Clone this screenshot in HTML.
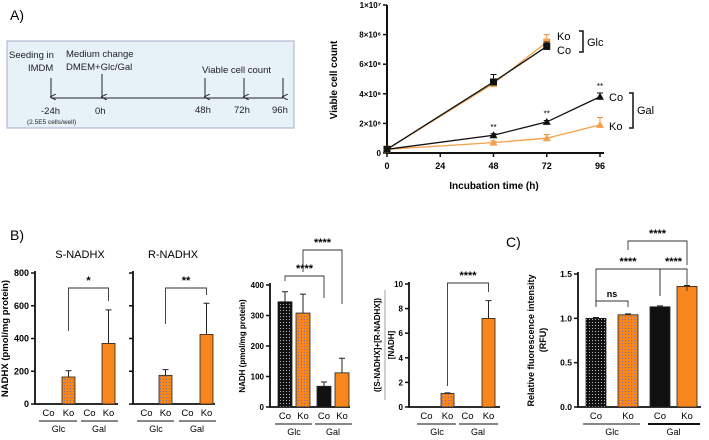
<!DOCTYPE html>
<html><head><meta charset="utf-8"><style>
body{margin:0;background:#fff}
svg{display:block;font-family:"Liberation Sans",Arial,sans-serif}
</style></head><body>
<svg id="fig" width="709" height="440" viewBox="0 0 709 440">
<defs>
<pattern id="pk" width="3" height="3" patternUnits="userSpaceOnUse"><rect width="3" height="3" fill="#111"/><rect x="1" y="1" width="1" height="1" fill="#bbb"/></pattern>
<pattern id="po" width="3" height="3" patternUnits="userSpaceOnUse"><rect width="3" height="3" fill="#f7861c"/><rect x="1" y="1" width="1" height="1" fill="#7a6fb0"/></pattern>
<marker id="arr" markerWidth="6" markerHeight="6" refX="3" refY="5" orient="auto"><path d="M0,0 L3,6 L6,0" fill="none" stroke="#222" stroke-width="1"/></marker>
</defs>
<text x="10" y="20" font-size="14">A)</text>
<g>
<rect x="7" y="41" width="287" height="87" fill="#e6f1f8" stroke="#aac" stroke-width="1"/>
<g font-size="9.5" fill="#222">
<text x="9" y="58">Seeding in</text><text x="28" y="71">IMDM</text>
<text x="66" y="57">Medium change</text><text x="66" y="70">DMEM+Glc/Gal</text>
<text x="202" y="73">Viable cell count</text>
<text x="41" y="114">-24h</text><text x="95" y="114">0h</text><text x="195" y="113">48h</text><text x="234" y="113">72h</text><text x="272" y="113">96h</text>
<text x="27" y="124" font-size="6.5">(2.5E5 cells/well)</text>
</g>
<line x1="51" y1="98" x2="283" y2="98" stroke="#222"/>
<g stroke="#222" marker-end="url(#arr)">
<line x1="51" y1="78" x2="51" y2="97"/><line x1="102" y1="74" x2="102" y2="97"/><line x1="205" y1="78" x2="205" y2="97"/><line x1="244" y1="78" x2="244" y2="97"/><line x1="283" y1="78" x2="283" y2="97"/>
</g>
</g>
<g id="lineChart"></g>
<text x="10" y="240" font-size="14">B)</text>
<text x="80" y="258" font-size="11" text-anchor="middle">S-NADHX</text>
<text x="173" y="258" font-size="11" text-anchor="middle">R-NADHX</text>
<text x="506" y="247" font-size="14">C)</text>
<g id="bars"></g>
</svg>
<script>
// growth chart data
const timesH=[0,48,72,96];
const xTicks=[0,24,48,72,96];
const yTicks=[0,2e6,4e6,6e6,8e6,1e7];
const yTickLabels=["0","2×10⁶","4×10⁶","6×10⁶","8×10⁶","1×10⁷"];
const glcCo=[0.25e6,4.8e6,7.2e6];
const glcKo=[0.25e6,4.7e6,7.5e6];
const glcKoErr=[0,0.2e6,0.5e6];
const glcCoErr=[0,0.5e6,0.3e6];
const galCo=[0.25e6,1.2e6,2.1e6,3.8e6];
const galCoErr=[0,0.1e6,0.1e6,0.25e6];
const galKo=[0.25e6,0.7e6,1.0e6,1.9e6];
const galKoErr=[0,0.1e6,0.25e6,0.5e6];

const NS="http://www.w3.org/2000/svg";
function mk(p,t,a,txt){const e=document.createElementNS(NS,t);for(const k in a)e.setAttribute(k,a[k]);if(txt!==undefined)e.textContent=txt;p.appendChild(e);return e;}
const lc=document.getElementById('lineChart');
const X=t=>387+t*(600-387)/96, Y=v=>153-v*(148/1e7);
let ax=mk(lc,'path',{d:`M387,5 V153 H604`,fill:'none',stroke:'#111','stroke-width':2});


xTicks.forEach(t=>{mk(lc,'line',{x1:X(t),x2:X(t),y1:153,y2:157,stroke:'#111','stroke-width':1.5});
 const l=mk(lc,'text',{x:X(t),y:169,'font-size':9,'font-weight':'bold','text-anchor':'middle'},String(t));
 
 });
yTicks.forEach((v,i)=>{mk(lc,'line',{x1:383,x2:387,y1:Y(v),y2:Y(v),stroke:'#111','stroke-width':1.5});
 const l=mk(lc,'text',{x:381,y:Y(v)+3,'font-size':8,'font-weight':'bold','text-anchor':'end'},yTickLabels[i]);
 
 });
let xt=mk(lc,'text',{x:494,y:189,'font-size':10,'font-weight':'bold','text-anchor':'middle'},'Incubation time (h)');


let yt=mk(lc,'text',{x:0,y:0,'font-size':10,'font-weight':'bold','text-anchor':'middle',transform:'translate(337,80) rotate(-90)'},'Viable cell count');


function series(vals,errs,color,shape,name){
 const g=mk(lc,'g',{});
 
 
 mk(g,'polyline',{points:vals.map((v,i)=>X(timesH[i])+','+Y(v)).join(' '),fill:'none',stroke:color,'stroke-width':1.3});
 vals.forEach((v,i)=>{const x=X(timesH[i]),y=Y(v);
  if(errs[i]>0){mk(g,'path',{d:`M${x},${y} V${Y(v+errs[i])} M${x-3},${Y(v+errs[i])} H${x+3}`,stroke:color==='#111'?'#111':'#e8903a','stroke-width':1,fill:'none'});}
  if(shape==='sq')mk(g,'rect',{x:x-3.5,y:y-3.5,width:7,height:7,fill:color});
  else mk(g,'path',{d:`M${x},${y-4} L${x+4},${y+3} L${x-4},${y+3}Z`,fill:color});});
}
series(glcKo,glcKoErr,'#f5a04a','sq','series-glc-ko');
series(glcCo,glcCoErr,'#111','sq','series-glc-co');
series(galKo,galKoErr,'#f5a04a','tri','series-gal-ko');
series(galCo,galCoErr,'#111','tri','series-gal-co');
[[48,galCo[1]+galCoErr[1]],[72,galCo[2]+galCoErr[2]],[96,galCo[3]+galCoErr[3]]].forEach(([t,v])=>{const s=mk(lc,'text',{x:X(t),y:Y(v)-4,'font-size':8,'text-anchor':'middle'},'**');
 
 });
const lg=mk(lc,'g',{'font-size':11});


mk(lg,'text',{x:557,y:40},'Ko');mk(lg,'text',{x:557,y:54},'Co');
mk(lg,'path',{d:'M579,31 H583 V52 H579',fill:'none',stroke:'#111','stroke-width':1.5});
mk(lg,'text',{x:587,y:46},'Glc');
mk(lg,'text',{x:609,y:101},'Co');mk(lg,'text',{x:609,y:130},'Ko');
mk(lg,'path',{d:'M629,93 H633 V128 H629',fill:'none',stroke:'#111','stroke-width':1.5});
mk(lg,'text',{x:637,y:114},'Gal');

// bar charts data
const sNadhx=[0,165,0,370], sNadhxErr=[0,38,0,205];
const rNadhx=[0,175,0,425], rNadhxErr=[0,35,0,190];
const nadh=[345,308,68,112], nadhErr=[33,62,14,48];
const ratio=[0,1.1,0,7.2], ratioErr=[0,0.05,0,1.45];
const rfu=[1.0,1.04,1.13,1.36], rfuErr=[0.01,0.01,0.01,0.01];
const sTicks=[0,200,400,600,800], nadhTicks=[0,100,200,300,400], ratioTicks=[0,2,4,6,8,10];
const rfuTicks=[0,0.5,1.0,1.5], rfuTickLabels=["0.0","0.5","1.0","1.5"];
const fills=['url(#pk)','url(#po)','#111','#f7861c'];
const B=document.getElementById('bars');
function chart(o){
 const g=mk(B,'g',{});
 
 
 const Yv=v=>o.y0-v*(o.y0-o.yTop)/o.max;
 mk(g,'path',{d:`M${o.ax},${o.yTop-2} V${o.y0} H${o.axEnd}`,fill:'none',stroke:'#111','stroke-width':1.8});
 o.ticks.forEach((t,i)=>{mk(g,'line',{x1:o.ax-4,x2:o.ax,y1:Yv(t),y2:Yv(t),stroke:'#111','stroke-width':1.5});
  if(o.labels!==false){const l=mk(g,'text',{x:o.ax-6,y:Yv(t)+3,'font-size':o.fs||8.5,'font-weight':'bold','text-anchor':'end'},o.tl?o.tl[i]:String(t));
  
  }});
 o.vals.forEach((v,i)=>{const x=o.bx[i];
  if(v<=0)return;
  const e=o.errs[i];
  mk(g,'path',{d:`M${x+o.bw/2},${Yv(v)} V${Yv(v+e)} M${x+o.bw/2-3},${Yv(v+e)} H${x+o.bw/2+3}`,stroke:'#222','stroke-width':1,fill:'none'});
  const r=mk(g,'rect',{x:x,y:Yv(v),width:o.bw,height:o.y0-Yv(v),fill:fills[i],stroke:'#222','stroke-width':0.8});
  
  });
 ['Co','Ko','Co','Ko'].forEach((s,i)=>mk(g,'text',{x:o.bx[i]+o.bw/2,y:o.y0+12,'font-size':9.5,'text-anchor':'middle'},s));
 mk(g,'line',{x1:o.bx[0]-3,x2:o.bx[1]+o.bw+2,y1:o.y0+17,y2:o.y0+17,stroke:'#111','stroke-width':1});
 mk(g,'line',{x1:o.bx[2]-2,x2:o.bx[3]+o.bw+3,y1:o.y0+17,y2:o.y0+17,stroke:'#111','stroke-width':o.thick?2:1});
 mk(g,'text',{x:(o.bx[0]+o.bx[1]+o.bw)/2,y:o.y0+28,'font-size':9,'text-anchor':'middle'},'Glc');
 mk(g,'text',{x:(o.bx[2]+o.bx[3]+o.bw)/2,y:o.y0+28,'font-size':9,'text-anchor':'middle'},'Gal');
 (o.sig||[]).forEach(s=>{const x1=o.bx[s[0]]+o.bw/2,x2=o.bx[s[1]]+o.bw/2;
  mk(g,'path',{d:`M${x1},${s[3]} V${s[2]} H${x2} V${s[4]}`,fill:'none',stroke:'#333','stroke-width':0.9});
  const t=mk(g,'text',{x:(x1+x2)/2,y:s[2]-4,'font-size':s[5]==='ns'?9:11,'text-anchor':'middle','font-weight':'bold'},s[5]);
  
  });
 if(o.title){const t=mk(g,'text',{x:0,y:0,'font-size':o.tfs||9,'font-weight':'bold','text-anchor':'middle',transform:`translate(${o.tx},${(o.y0+o.yTop)/2}) rotate(-90)`},o.title);
  
  }
 return g;
}
chart({name:'s-nadhx-chart',ax:35,axEnd:118,y0:404,yTop:273,max:800,ticks:sTicks,vals:sNadhx,errs:sNadhxErr,bx:[42,62,83,102],bw:13,title:'NADHX (pmol/mg protein)',tx:8,tfs:9.5,fs:9,
 sig:[[1,3,288,331,301,'*']]});
chart({name:'r-nadhx-chart',ax:133,axEnd:215,y0:404,yTop:273,max:800,ticks:sTicks,labels:false,vals:rNadhx,errs:rNadhxErr,bx:[140,159,181,200],bw:13,
 sig:[[1,3,288,324,295,'**']]});
chart({name:'nadh-chart',ax:270,axEnd:350,y0:407,yTop:285,max:400,ticks:nadhTicks,vals:nadh,errs:nadhErr,bx:[278,296,317,335],bw:14,title:'NADH (pmol/mg protein)',tx:245,fs:8,tfs:8,
 sig:[[0,2,276,281,298,'****'],[1,3,250,272,304,'****']]});
chart({name:'ratio-chart',ax:409,axEnd:500,y0:407,yTop:284,max:10,ticks:ratioTicks,vals:ratio,errs:ratioErr,bx:[420,441,461,482],bw:13,fs:8,
 sig:[[1,3,283,386,292,'****']]});
chart({name:'rfu-chart',ax:578,axEnd:701,y0:407,yTop:274,max:1.5,ticks:rfuTicks,tl:rfuTickLabels,vals:rfu,errs:rfuErr,bx:[586,618,650,677],bw:20,thick:true,title:'Relative fluorescence intensity',tx:534,tfs:9,fs:8.5,
 sig:[[0,1,301,307,307,'ns'],[0,2,269,306,296,'****'],[2,3,269,296,291,'****'],[1,3,241,250,265,'****']]});
const ry=mk(B,'text',{x:0,y:0,'font-size':9,'font-weight':'bold','text-anchor':'middle',transform:'translate(546,340) rotate(-90)'},'(RFU)');


const rt=mk(B,'g',{'font-size':8,'font-weight':'bold','text-anchor':'middle'});


mk(rt,'text',{transform:'translate(380,345) rotate(-90)'},'([S-NADHX]+[R-NADHX])');
mk(rt,'line',{x1:385,x2:385,y1:290,y2:400,stroke:'#888','stroke-width':0.8});
mk(rt,'text',{transform:'translate(394,345) rotate(-90)'},'[NADH]');
</script>
</body></html>
